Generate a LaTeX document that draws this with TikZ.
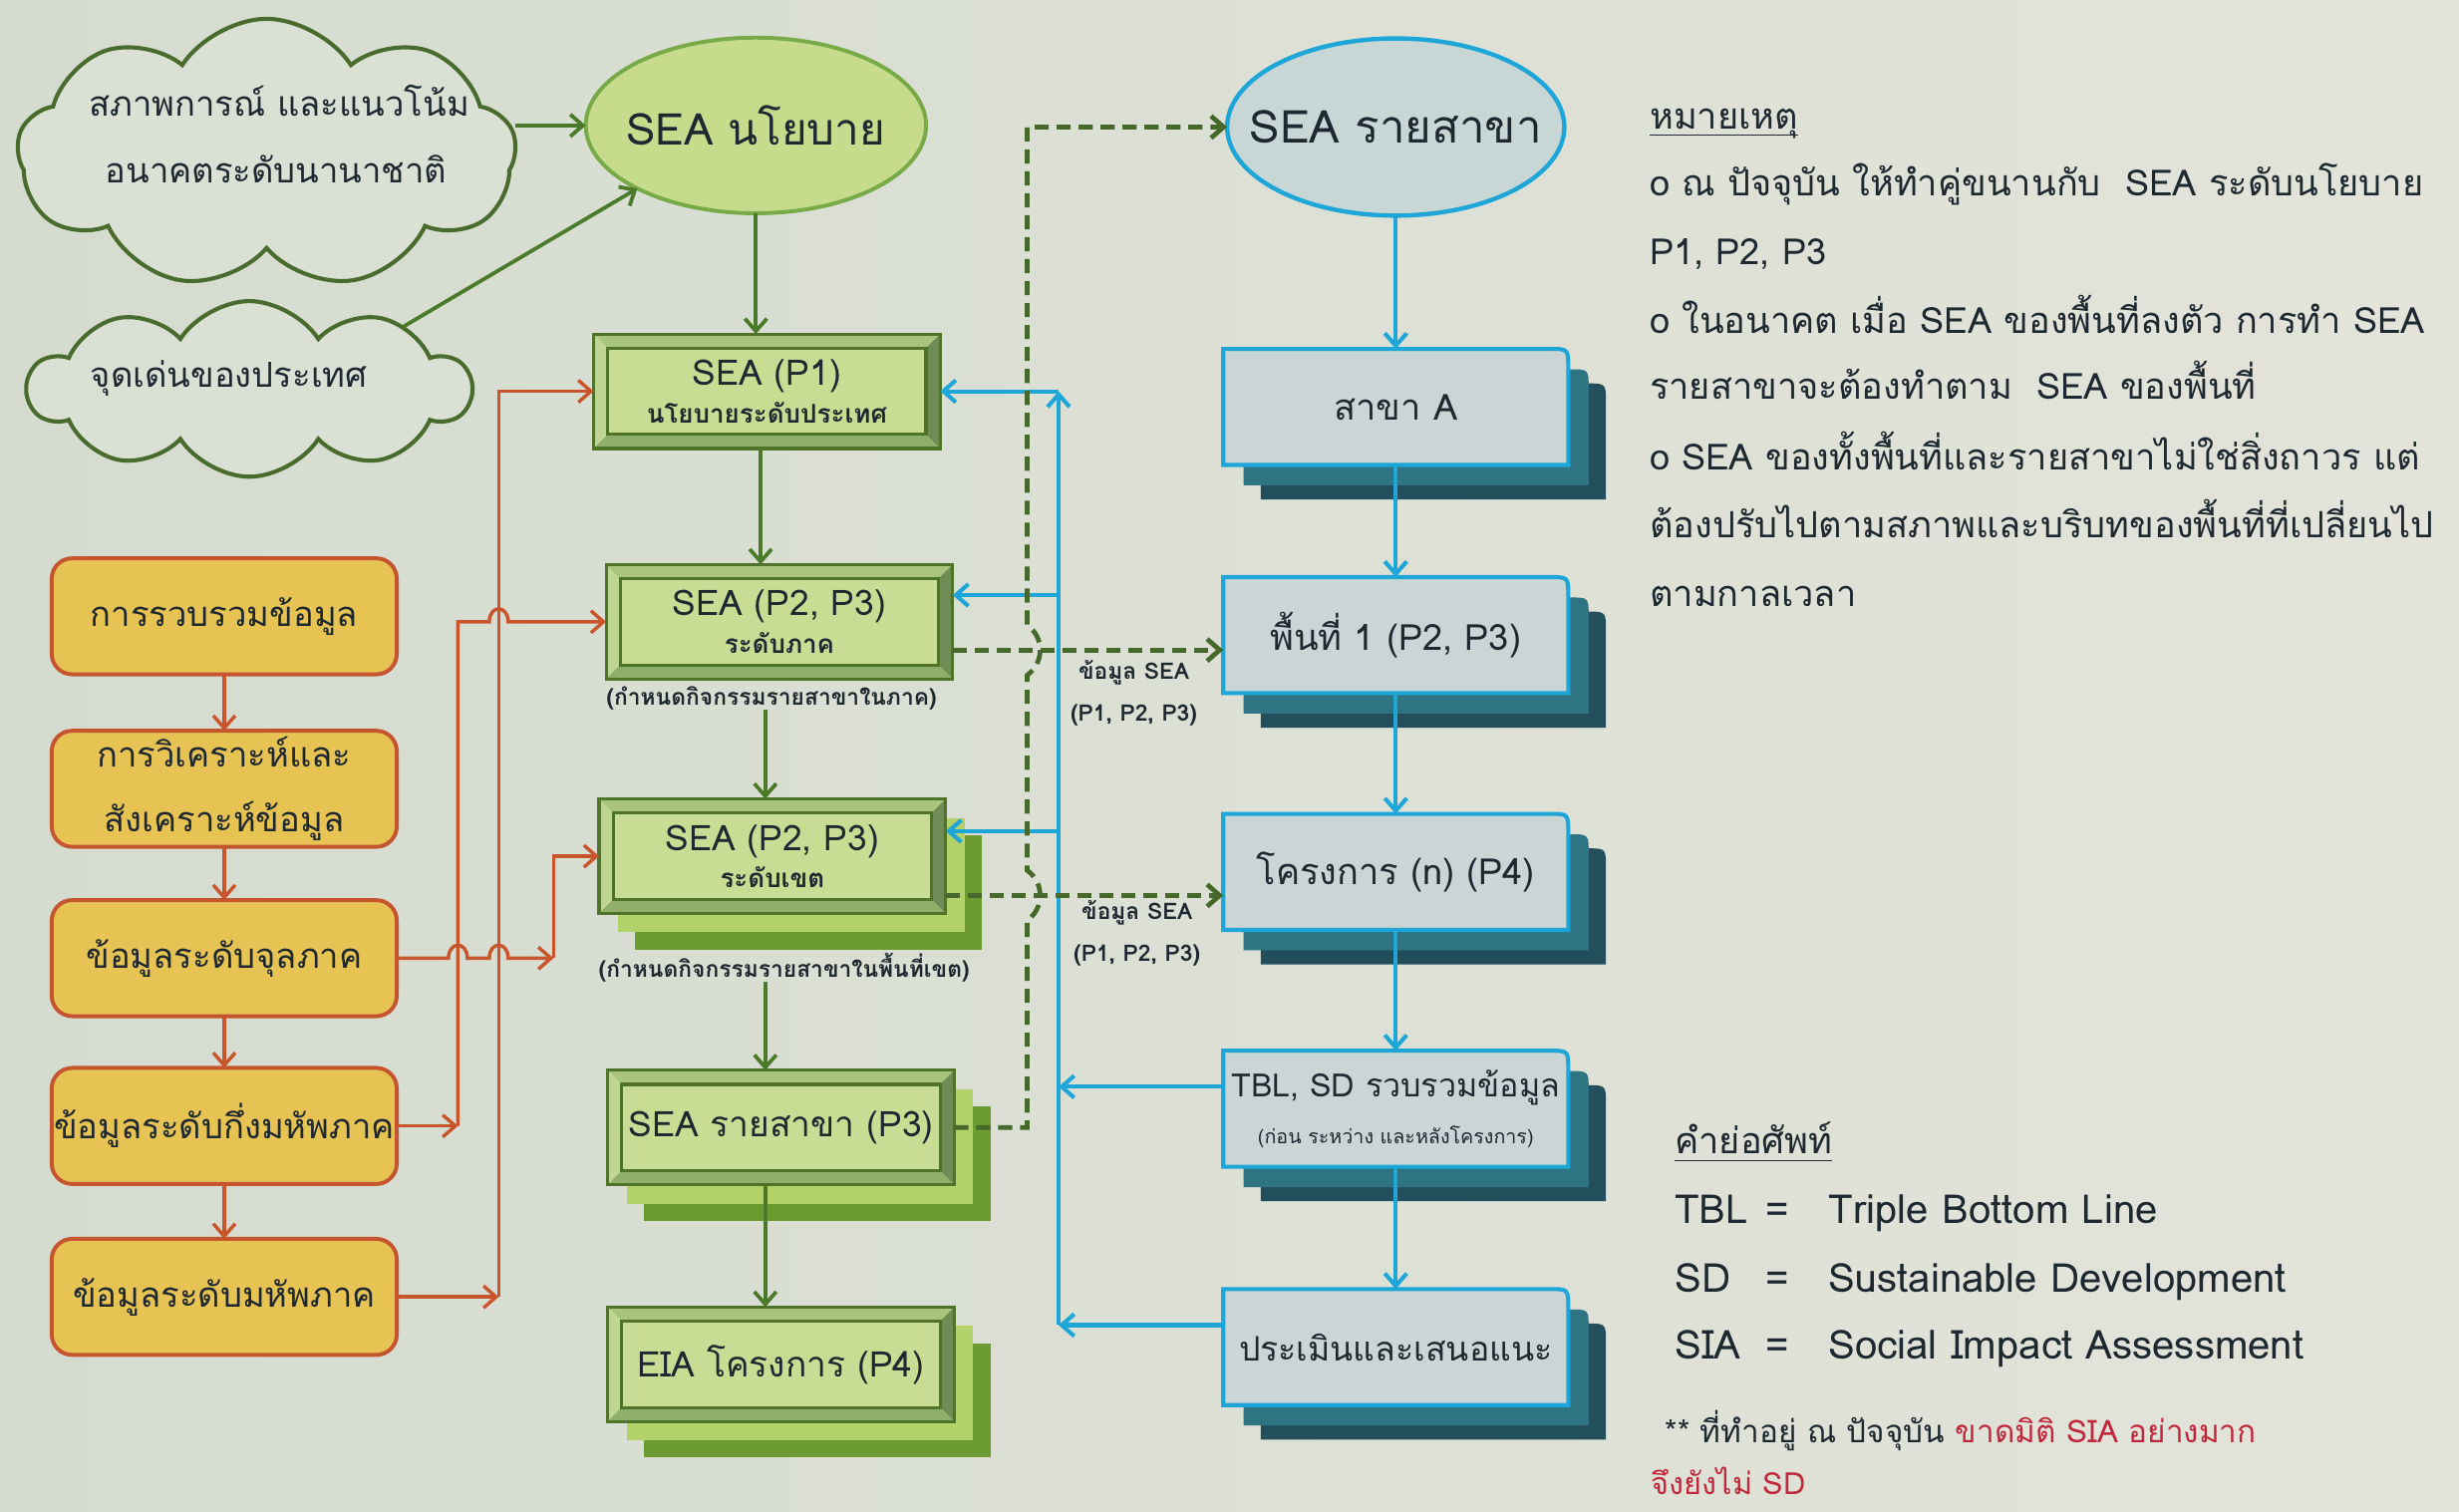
\documentclass[tikz,border=0pt]{standalone}
\usepackage{fontspec}
\setmainfont[Script=Thai]{Loma}
\usetikzlibrary{shapes.symbols,shapes.geometric,arrows.meta,calc}
\pgfdeclarelayer{bgl}
\pgfdeclarelayer{back}
\pgfsetlayers{bgl,back,main}
\definecolor{bgA}{HTML}{D5DCCF}
\definecolor{bgB}{HTML}{E3E3DA}
\definecolor{txt}{HTML}{1E2830}
\definecolor{redt}{HTML}{C0283C}
\definecolor{gline}{HTML}{4B7A2A}
\definecolor{dashc}{HTML}{46682A}
\definecolor{cloudline}{HTML}{4A6B2E}
\definecolor{cloudfill}{HTML}{DAE0D4}
\definecolor{ellgfill}{HTML}{C6DB8C}
\definecolor{ellgline}{HTML}{78AA48}
\definecolor{cy}{HTML}{1EA6D8}
\definecolor{ellbfill}{HTML}{C9D6D6}
\definecolor{yfill}{HTML}{E7C354}
\definecolor{yline}{HTML}{C4552E}
\definecolor{orng}{HTML}{C9552C}
\definecolor{gdark}{HTML}{4E7329}
\definecolor{gfill}{HTML}{C8DC93}
\definecolor{gtop}{HTML}{A9C47B}
\definecolor{gleft}{HTML}{BFD592}
\definecolor{gright}{HTML}{6F8C56}
\definecolor{gbot}{HTML}{8FAE6A}
\definecolor{gsh1}{HTML}{B4D26A}
\definecolor{gsh2}{HTML}{6C9B33}
\definecolor{bfill}{HTML}{C9D6D5}
\definecolor{bsh1}{HTML}{2F7483}
\definecolor{bsh2}{HTML}{234F5D}
\newcommand\fsz[2]{\fontsize{#1pt}{#2pt}\selectfont}
\newcommand\rbpath[2]{($(#1.south west)+#2$) -- ($(#1.north west)+#2$) -- ($(#1.north east)+#2+(-12pt,0pt)$) .. controls ($(#1.north east)+#2$) .. ($(#1.north east)+#2+(0pt,-12pt)$) -- ($(#1.south east)+#2$) -- cycle}
\newcommand\bluebox[3]{%
  \node[bnode] (#1) at (#2) {#3};
  \begin{pgfonlayer}{back}
    \fill[bsh2] \rbpath{#1}{(24pt,-22pt)};
    \fill[bsh1] \rbpath{#1}{(13pt,-13pt)};
    \filldraw[fill=bfill, draw=cy, line width=2.6pt] \rbpath{#1}{(0pt,0pt)};
  \end{pgfonlayer}}
\newcommand\gshadow[1]{%
  \begin{pgfonlayer}{back}
    \fill[gsh2] ($(#1.north west)+(23pt,-23pt)$) rectangle ($(#1.south east)+(23pt,-23pt)$);
    \fill[gsh1] ($(#1.north west)+(12pt,-12pt)$) rectangle ($(#1.south east)+(12pt,-12pt)$);
  \end{pgfonlayer}}
\begin{document}
\begin{tikzpicture}[x=1pt,y=-1pt,
  every node/.style={text=txt, inner sep=0pt, outer sep=0pt},
  garr/.style={draw=gline, line width=2.4pt, -{Straight Barb[length=8pt,width=14pt]}},
  carr/.style={draw=cy, line width=2.6pt, -{Straight Barb[length=8pt,width=14pt]}},
  oarr/.style={draw=orng, line width=2.2pt, -{Straight Barb[length=8pt,width=14pt]}},
  dasharr/.style={draw=dashc, line width=3pt, dash pattern=on 9pt off 5pt, -{Straight Barb[length=8pt,width=14pt]}},
  cloudn/.style={cloud, cloud puff arc=115, cloud ignores aspect, draw=cloudline, line width=2.6pt, fill=cloudfill},
  ellg/.style={ellipse, draw=ellgline, line width=2.5pt, fill=ellgfill, minimum width=217pt, minimum height=112pt, font=\fsz{28}{32}},
  ellb/.style={ellipse, draw=cy, line width=2.8pt, fill=ellbfill, minimum width=215pt, minimum height=113pt, font=\fsz{29}{33}},
  yb/.style={rounded corners=13pt, draw=yline, line width=2.5pt, fill=yfill, minimum width=220pt, minimum height=74pt, align=center, font=\fsz{22}{41}},
  bnode/.style={rectangle, minimum width=220pt, minimum height=74pt, align=center, font=\fsz{23}{30}},
  gbox/.style={rectangle, draw=gdark, line width=2pt, fill=gfill, minimum width=221pt, minimum height=73pt, align=center, font=\fsz{22.5}{24},
    path picture={
      \path (path picture bounding box.north west) coordinate (bbnw)
            (path picture bounding box.north east) coordinate (bbne)
            (path picture bounding box.south west) coordinate (bbsw)
            (path picture bounding box.south east) coordinate (bbse);
      \fill[gtop] (bbnw) -- (bbne) -- ($(bbne)+(-9pt,-9pt)$) -- ($(bbnw)+(9pt,-9pt)$) -- cycle;
      \fill[gleft] (bbnw) -- ($(bbnw)+(9pt,-9pt)$) -- ($(bbsw)+(9pt,9pt)$) -- (bbsw) -- cycle;
      \fill[gright] (bbne) -- (bbse) -- ($(bbse)+(-9pt,9pt)$) -- ($(bbne)+(-9pt,-9pt)$) -- cycle;
      \fill[gbot] (bbsw) -- (bbse) -- ($(bbse)+(-9pt,9pt)$) -- ($(bbsw)+(9pt,9pt)$) -- cycle;
      \draw[gdark, line width=2pt] ($(bbnw)+(9pt,-9pt)$) rectangle ($(bbse)+(-9pt,9pt)$);
    }},
  smalllbl/.style={font=\bfseries\fsz{14.5}{27}, align=center},
  capnode/.style={font=\bfseries\fsz{14.5}{16}},
  note/.style={anchor=base west, font=\fsz{23}{26}},
  gloss/.style={anchor=base west, font=\fsz{25.5}{28}}
]
\begin{pgfonlayer}{bgl}
  \fill[left color=bgA, right color=bgB] (0,0) rectangle (1568,964);
\end{pgfonlayer}
\useasboundingbox (0,0) rectangle (1568,964);

% clouds and ellipses
\node[cloudn, cloud puffs=9, minimum width=318pt, minimum height=172pt] (cl1) at (170,98) {};
\node[font=\fsz{22}{26}] (cl1a) at (178,64) {สภาพการณ์ และแนวโน้ม};
\node[font=\fsz{22}{26}] (cl1b) at (176,108) {อนาคตระดับนานาชาติ};
\node[cloudn, cloud puffs=10, minimum width=282pt, minimum height=112pt] (cl2) at (159,248) {};
\node[font=\fsz{22}{26}] (cl2a) at (146,241) {จุดเด่นของประเทศ};
\node[ellg] (e1) at (482,80) {\makebox[0pt]{SEA นโยบาย}};
\node[ellb] (e2) at (890,81) {\makebox[0pt]{SEA รายสาขา}};

% yellow column
\node[yb] (y1) at (143,393) {การรวบรวมข้อมูล};
\node[yb] (y2) at (143,503) {การวิเคราะห์และ\\สังเคราะห์ข้อมูล};
\node[yb] (y3) at (143,611) {ข้อมูลระดับจุลภาค};
\node[yb] (y4) at (143,718) {ข้อมูลระดับกึ่งมหัพภาค};
\node[yb] (y5) at (143,827) {ข้อมูลระดับมหัพภาค};

% green column
\node[gbox] (p1) at (489,249.5) {SEA (P1)\\{\bfseries\fsz{16.5}{18}นโยบายระดับประเทศ}};
\node[gbox] (p2) at (497,396.5) {SEA (P2, P3)\\{\bfseries\fsz{16.5}{18}ระดับภาค}};
\node[capnode] (cap2) at (492,445) {(กำหนดกิจกรรมรายสาขาในภาค)};
\node[gbox] (p3) at (492.5,546) {SEA (P2, P3)\\{\bfseries\fsz{16.5}{18}ระดับเขต}};
\gshadow{p3}
\node[capnode] (cap3) at (500,617) {(กำหนดกิจกรรมรายสาขาในพื้นที่เขต)};
\node[gbox] (p4) at (498,719) {SEA รายสาขา (P3)};
\gshadow{p4}
\node[gbox] (p5) at (498,870) {EIA โครงการ (P4)};
\gshadow{p5}

% blue column
\bluebox{ba}{890,259.5}{สาขา A}
\bluebox{bb}{890,405}{พื้นที่ 1 (P2, P3)}
\bluebox{bc}{890,556}{โครงการ (n) (P4)}
\bluebox{bd}{890,707}{{\fsz{20.5}{24}TBL, SD รวบรวมข้อมูล}\\{\fsz{12.5}{14}(ก่อน ระหว่าง และหลังโครงการ)}}
\bluebox{be}{890,859}{{\fsz{21.5}{24}ประเมินและเสนอแนะ}}

% labels on dashed arrows
\node[smalllbl] (l1) at (723,442) {ข้อมูล SEA\\(P1, P2, P3)};
\node[smalllbl] (l2) at (725,595) {ข้อมูล SEA\\(P1, P2, P3)};

% notes
\node[note] (n0) at (1052,82) {หมายเหตุ};
\draw[txt, line width=1pt] ([yshift=-4pt]n0.base west) -- ([yshift=-4pt]n0.base east);
\node[note] (n1) at (1052,124.6) {o ณ ปัจจุบัน ให้ทำคู่ขนานกับ \ SEA ระดับนโยบาย};
\node[note] (n2) at (1052,168.5) {P1, P2, P3};
\node[note] (n3) at (1052,212.5) {o ในอนาคต เมื่อ SEA ของพื้นที่ลงตัว การทำ SEA};
\node[note] (n4) at (1052,254.6) {รายสาขาจะต้องทำตาม \ SEA ของพื้นที่};
\node[note] (n5) at (1052,299.5) {o SEA ของทั้งพื้นที่และรายสาขาไม่ใช่สิ่งถาวร แต่};
\node[note] (n6) at (1052,343) {ต้องปรับไปตามสภาพและบริบทของพื้นที่ที่เปลี่ยนไป};
\node[note] (n7) at (1052,387) {ตามกาลเวลา};

% glossary
\node[note] (k0) at (1068,736) {คำย่อศัพท์};
\draw[txt, line width=1pt] ([yshift=-4pt]k0.base west) -- ([yshift=-4pt]k0.base east);
\node[gloss] (k1a) at (1068,780) {TBL};
\node[gloss] (k1b) at (1126,780) {=};
\node[gloss] (k1c) at (1166,780) {Triple Bottom Line};
\node[gloss] (k2a) at (1068,824) {SD};
\node[gloss] (k2b) at (1126,824) {=};
\node[gloss] (k2c) at (1166,824) {Sustainable Development};
\node[gloss] (k3a) at (1068,866.6) {SIA};
\node[gloss] (k3b) at (1126,866.6) {=};
\node[gloss] (k3c) at (1166,866.6) {Social Impact Assessment};
\node[note, font=\fsz{20}{22}] (k4) at (1062,920) {** ที่ทำอยู่ ณ ปัจจุบัน {\color{redt}ขาดมิติ SIA อย่างมาก}};
\node[note, font=\fsz{19.5}{22}, text=redt] (k5) at (1053,953) {จึงยังไม่ SD};

% helper coordinates
\coordinate (ov1) at (318,0);
\coordinate (ov2) at (292,0);
\coordinate (ov3) at (353,0);
\coordinate (bv) at (675,0);
\coordinate (dv) at (655,0);
\coordinate (g2) at (485,0);
\coordinate (g3) at (488,0);

% cloud arrows
\draw[garr] (e1.west -| cl1.east) -- (e1.west);
\draw[garr] (cl2.22) -- (e1.208);

% green vertical arrows
\draw[garr] (e1.south) -- (e1.south |- p1.north);
\draw[garr] (g2 |- p1.south) -- (g2 |- p2.north);
\draw[garr] (g3 |- cap2.south) -- (g3 |- p3.north);
\draw[garr] (g3 |- cap3.south) -- (g3 |- p4.north);
\draw[garr] (g3 |- p4.south) -- (g3 |- p5.north);

% yellow chain
\draw[oarr] (y1.south) -- (y2.north);
\draw[oarr] (y2.south) -- (y3.north);
\draw[oarr] (y3.south) -- (y4.north);
\draw[oarr] (y4.south) -- (y5.north);

% orange connectors
\draw[oarr] (y5.east) -- (y5.east -| ov1);
\draw[oarr] (y5.east -| ov1) -- (ov1 |- p1.west) -- (p1.west);
\draw[oarr] (y4.east) -- (y4.east -| ov2);
\coordinate (hx1) at (ov1 |- p2.west);
\draw[oarr] (y4.east -| ov2) -- (ov2 |- p2.west) -- ($(hx1)+(-6pt,0pt)$) .. controls +(0pt,11pt) and +(0pt,11pt) .. ($(hx1)+(6pt,0pt)$) -- (p2.west);
\coordinate (hx2) at (y3.east -| ov2);
\coordinate (hx3) at (y3.east -| ov1);
\draw[oarr] (y3.east) -- ($(hx2)+(-6pt,0pt)$) .. controls +(0pt,11pt) and +(0pt,11pt) .. ($(hx2)+(6pt,0pt)$) -- ($(hx3)+(-6pt,0pt)$) .. controls +(0pt,11pt) and +(0pt,11pt) .. ($(hx3)+(6pt,0pt)$) -- (y3.east -| ov3);
\draw[oarr] (y3.east -| ov3) -- (ov3 |- p3.west) -- (p3.west);

% blue connectors
\coordinate (bdW) at ([yshift=14pt]bd.west);
\coordinate (beW) at ([yshift=14pt]be.west);
\coordinate (p2E) at ([yshift=17pt]p2.east);
\coordinate (p3E) at ([yshift=16pt]p3.east);
\draw[carr] (e2.south) -- (ba.north);
\draw[carr] (ba.south) -- (bb.north);
\draw[carr] (bb.south) -- (bc.north);
\draw[carr] (bc.south) -- (bd.north);
\draw[carr] (bd.south) -- (be.north);
\draw[carr] (bdW) -- (bdW -| bv);
\draw[carr] (beW) -- (beW -| bv);
\draw[carr] (beW -| bv) -- (bv |- p1.east);
\draw[carr] (bv |- p1.east) -- (p1.east);
\draw[carr] (p2E -| bv) -- (p2E);
\draw[carr] (p3E -| bv) -- (p3E);

% dashed connectors
\coordinate (p2D) at ([yshift=-18pt]p2.east);
\coordinate (p3D) at ([yshift=-25pt]p3.east);
\draw[dasharr] (p2D) -- (p2D -| bb.west);
\draw[dasharr] (p3D) -- (p3D -| bc.west);
\coordinate (hd1) at (dv |- p3D);
\coordinate (hd2) at (dv |- p2D);
\draw[dasharr] (p4.east) -- (dv |- p4.east) -- ($(hd1)+(0pt,-16pt)$) .. controls ($(hd1)+(11pt,-8pt)$) and ($(hd1)+(11pt,8pt)$) .. ($(hd1)+(0pt,16pt)$) -- ($(hd2)+(0pt,-16pt)$) .. controls ($(hd2)+(11pt,-8pt)$) and ($(hd2)+(11pt,8pt)$) .. ($(hd2)+(0pt,16pt)$) -- (dv |- e2.west) -- (e2.west);
\end{tikzpicture}
\end{document}
